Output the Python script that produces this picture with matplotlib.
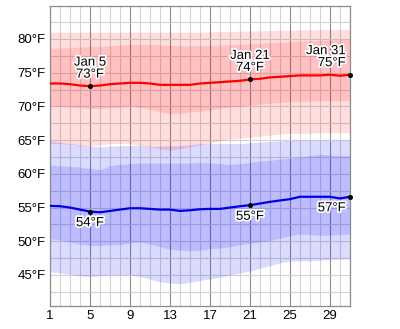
import numpy as np
import matplotlib
matplotlib.use("Agg")
import matplotlib.pyplot as plt
import matplotlib.patheffects as pe

plt.rcParams['font.family'] = ['Liberation Sans', 'DejaVu Sans']

days = list(range(1, 32))

# average daily high / low (°F)
high_avg = [73.4, 73.4, 73.3, 73.1, 73.0, 73.1, 73.3, 73.4, 73.5, 73.5, 73.4,
            73.2, 73.2, 73.2, 73.2, 73.4, 73.5, 73.6, 73.7, 73.8, 74.0, 74.1,
            74.3, 74.4, 74.5, 74.6, 74.6, 74.6, 74.7, 74.55, 74.7]
low_avg = [55.25, 55.2, 55.0, 54.7, 54.4, 54.3, 54.5, 54.7, 54.9, 54.9, 54.8,
           54.7, 54.7, 54.5, 54.6, 54.75, 54.8, 54.8, 55.0, 55.2, 55.35, 55.6,
           55.85, 56.05, 56.25, 56.6, 56.6, 56.6, 56.6, 56.35, 56.6]

# percentile bands for the high
high_p90 = [81.0, 81.0, 81.0, 81.0, 81.0, 81.0, 81.0, 81.0, 81.0, 81.0, 81.0,
            81.0, 81.0, 81.0, 81.0, 81.0, 81.05, 81.1, 81.1, 81.15, 81.2, 81.2,
            81.25, 81.3, 81.3, 81.35, 81.35, 81.4, 81.4, 81.4, 81.4]
high_p75 = [78.6, 78.65, 78.7, 78.8, 78.9, 78.9, 79.0, 79.1, 79.2, 79.2, 79.2,
            79.1, 79.05, 79.0, 79.0, 79.0, 79.05, 79.1, 79.15, 79.2, 79.3, 79.35,
            79.45, 79.5, 79.6, 79.7, 79.75, 79.8, 79.85, 79.9, 79.95]
high_p25 = [70.1, 70.0, 69.9, 69.8, 69.7, 69.7, 69.8, 69.9, 70.0, 69.9, 69.6,
            69.2, 68.9, 69.0, 69.2, 69.3, 69.5, 69.7, 69.9, 70.05, 70.2, 70.35,
            70.5, 70.6, 70.7, 70.75, 70.8, 70.8, 70.85, 70.85, 70.85]
high_p10 = [64.5, 64.5, 64.4, 64.2, 64.1, 64.3, 64.5, 64.5, 64.5, 64.2, 64.0,
            63.7, 63.5, 63.7, 64.0, 64.3, 64.6, 64.9, 65.1, 65.3, 65.45, 65.6,
            65.75, 65.9, 66.0, 66.0, 66.05, 66.05, 66.1, 66.1, 66.1]

# percentile bands for the low
low_p90 = [64.9, 64.7, 64.5, 64.3, 64.1, 64.0, 64.1, 64.2, 64.2, 64.2, 64.1,
           64.1, 64.2, 64.2, 64.3, 64.5, 64.5, 64.5, 64.5, 64.5, 64.6, 64.7,
           64.8, 64.9, 65.0, 65.0, 65.0, 65.0, 65.0, 65.0, 65.0]
low_p75 = [61.3, 61.2, 61.1, 61.0, 60.8, 60.6, 61.2, 61.4, 61.5, 61.6, 61.6,
           61.6, 61.6, 61.6, 61.6, 61.7, 61.6, 61.5, 61.4, 61.5, 61.7, 61.9,
           62.0, 62.2, 62.3, 62.5, 62.7, 62.9, 62.8, 62.7, 62.7]
low_p25 = [50.4, 50.2, 49.9, 49.6, 49.4, 49.4, 49.5, 49.5, 49.8, 49.9, 49.6,
           49.2, 48.8, 48.7, 48.6, 48.7, 48.9, 49.0, 49.2, 49.5, 49.7, 49.9,
           50.1, 50.5, 50.8, 51.1, 51.0, 50.9, 50.9, 51.0, 51.1]
low_p10 = [45.5, 45.3, 45.1, 44.9, 44.8, 44.9, 45.0, 45.0, 45.0, 44.8, 44.4,
           44.0, 43.8, 43.7, 43.9, 44.2, 44.4, 44.7, 45.0, 45.3, 45.6, 46.0,
           46.4, 46.8, 47.1, 47.1, 47.1, 47.2, 47.3, 47.35, 47.4]

x_ticks = [1, 5, 9, 13, 17, 21, 25, 29]
y_ticks = [45, 50, 55, 60, 65, 70, 75, 80]

# days that get a value callout
callouts = [(5, "Jan 5"), (21, "Jan 21"), (31, "Jan 31")]

fig = plt.figure(figsize=(4, 3.29), dpi=100)
ax = fig.add_axes([0.125, 0.0699, 0.75, 0.912])

ax.set_xlim(1, 31)
ax.set_ylim(40.4, 84.9)

# grid: every day / every 2.5°F light, every 4 days darker
for d in days:
    c = '#8c8c8c' if d in x_ticks[1:] else '#d2d2d2'
    ax.axvline(d, color=c, lw=0.8, zorder=0)
for v in np.arange(42.5, 84, 2.5):
    ax.axhline(v, color='#d2d2d2', lw=0.8, zorder=0)

ax.fill_between(days, high_p10, high_p90, color='#ff0000', alpha=0.13, lw=0, zorder=1)
ax.fill_between(days, high_p25, high_p75, color='#ff0000', alpha=0.13, lw=0, zorder=1)
ax.fill_between(days, low_p10, low_p90, color='#0000ff', alpha=0.14, lw=0, zorder=1)
ax.fill_between(days, low_p25, low_p75, color='#0000ff', alpha=0.14, lw=0, zorder=1)

ax.plot(days, high_avg, color='#ff0000', lw=1.6, zorder=3)
ax.plot(days, low_avg, color='#0000e6', lw=1.6, zorder=3)

halo = [pe.withStroke(linewidth=2.5, foreground='white')]
for d, name in callouts:
    i = days.index(d)
    hi, lo = high_avg[i], low_avg[i]
    ax.plot([d, d], [hi, lo], 'o', color='black', ms=2.6, zorder=4, clip_on=False)
    if d == days[-1]:
        ha, dx = 'right', -3
    else:
        ha, dx = 'center', 0
    ax.annotate(f"{name}\n{round(hi)}°F", (d, hi), xytext=(dx, 4),
                textcoords='offset points', ha=ha, va='bottom',
                multialignment=ha,
                fontsize=9.5, linespacing=1.0, path_effects=halo, zorder=5)
    ax.annotate(f"{round(lo)}°F", (d, lo), xytext=(dx, -4),
                textcoords='offset points', ha=ha, va='top',
                fontsize=9.5, path_effects=halo, zorder=5)

ax.set_xticks(x_ticks)
ax.set_yticks(y_ticks)
ax.set_yticklabels([f"{v}°F" for v in y_ticks])
ax.tick_params(length=0, labelsize=9.5, pad=3)
for s in ax.spines.values():
    s.set_color('#8c8c8c')
    s.set_linewidth(0.9)

fig.savefig('out.png', dpi=100)
